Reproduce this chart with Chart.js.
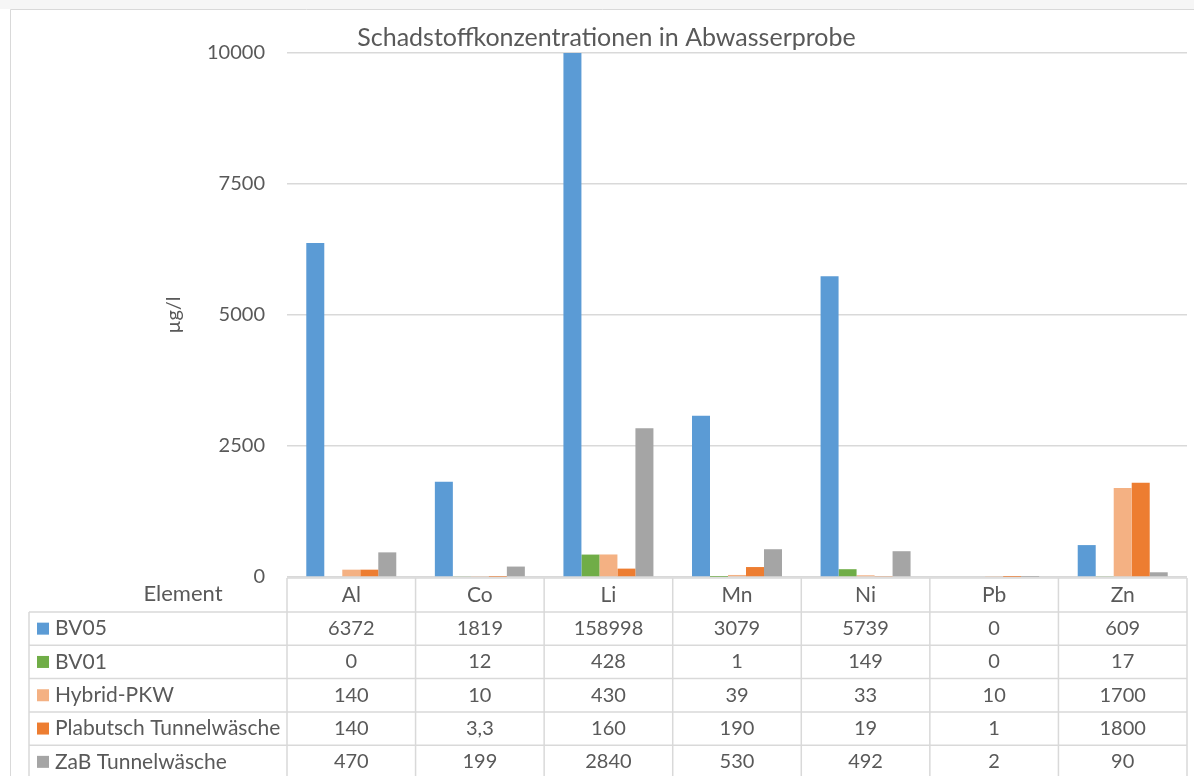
<!DOCTYPE html>
<html lang="de">
<head>
<meta charset="utf-8">
<title>Schadstoffkonzentrationen in Abwasserprobe</title>
<script src="https://cdn.jsdelivr.net/npm/chart.js@4.4.1/dist/chart.umd.min.js"></script>
<style>
  html, body { margin: 0; padding: 0; background: #fff; }
  #wrap { position: relative; width: 1194px; height: 776px; }
</style>
</head>
<body>
<div id="wrap"><canvas id="chart"></canvas></div>
<script>
// Elemente und Messwerte in µg/l
const elements = ['Al', 'Co', 'Li', 'Mn', 'Ni', 'Pb', 'Zn'];
const bv05 = [6372, 1819, 158998, 3079, 5739, 0, 609];
const bv01 = [0, 12, 428, 1, 149, 0, 17];
const hybridPkw = [140, 10, 430, 39, 33, 10, 1700];
const plabutsch = [140, 3.3, 160, 190, 19, 1, 1800];
const zab = [470, 199, 2840, 530, 492, 2, 90];

const seriesNames = ['BV05', 'BV01', 'Hybrid-PKW', 'Plabutsch Tunnelwäsche', 'ZaB Tunnelwäsche'];
const seriesColors = ['#5B9BD5', '#70AD47', '#F4B183', '#ED7D31', '#A5A5A5'];
const seriesValues = [bv05, bv01, hybridPkw, plabutsch, zab];

const yTicks = [0, 2500, 5000, 7500, 10000];

const FONT = 'Lato, "Open Sans", sans-serif';
const TEXT = '#595959';
const LINE = '#D9D9D9';

// Datentabelle unter dem Diagramm, an der x-Achse ausgerichtet
const dataTable = {
  id: 'dataTable',
  beforeDraw(chart) {
    const { ctx } = chart;
    ctx.save();
    ctx.fillStyle = '#F6F6F6';
    ctx.fillRect(0, 0, chart.width, 9);
    ctx.restore();
  },
  afterDraw(chart) {
    const { ctx, chartArea, scales } = chart;
    const x = scales.x;
    const colW = (chartArea.right - chartArea.left) / elements.length;
    const top = chartArea.bottom + 1;
    const headerH = 34;
    const rowH = 33.3;
    const tableLeft = 29;

    ctx.save();
    ctx.strokeStyle = LINE;
    ctx.lineWidth = 1.5;

    // Kopfzeile
    ctx.beginPath();
    ctx.moveTo(chartArea.left, top);
    ctx.lineTo(chartArea.right, top);
    for (let i = 0; i <= elements.length; i++) {
      const cx = chartArea.left + i * colW;
      ctx.moveTo(cx, top);
      ctx.lineTo(cx, top + headerH + rowH * seriesNames.length);
    }
    // Zeilen
    for (let r = 0; r <= seriesNames.length; r++) {
      const ry = top + headerH + r * rowH;
      ctx.moveTo(tableLeft, ry);
      ctx.lineTo(chartArea.right, ry);
    }
    ctx.moveTo(tableLeft, top + headerH);
    ctx.lineTo(tableLeft, top + headerH + rowH * seriesNames.length);
    ctx.stroke();

    ctx.fillStyle = TEXT;
    ctx.textBaseline = 'middle';
    ctx.textAlign = 'center';
    ctx.font = '22px ' + FONT;
    ctx.fillText('Element', 183, top + headerH / 2 - 1);
    ctx.font = '21px ' + FONT;
    elements.forEach((el, i) => {
      ctx.fillText(el, x.getPixelForValue(i), top + headerH / 2);
    });

    seriesNames.forEach((name, r) => {
      const cy = top + headerH + r * rowH + rowH / 2;
      ctx.fillStyle = seriesColors[r];
      ctx.fillRect(37, cy - 6, 12, 12);
      ctx.fillStyle = TEXT;
      ctx.textAlign = 'left';
      ctx.font = '21px ' + FONT;
      ctx.fillText(name, 55, cy);
      ctx.textAlign = 'center';
      ctx.font = '20px ' + FONT;
      seriesValues[r].forEach((v, i) => {
        ctx.fillText(String(v).replace('.', ','), x.getPixelForValue(i), cy);
      });
    });

    // Rahmen
    ctx.lineWidth = 1;
    ctx.beginPath();
    ctx.moveTo(10.5, 776);
    ctx.lineTo(10.5, 9.5);
    ctx.lineTo(1194, 9.5);
    ctx.stroke();
    ctx.restore();
  }
};

new Chart(document.getElementById('chart'), {
  type: 'bar',
  data: {
    labels: elements,
    datasets: seriesNames.map((name, i) => ({
      label: name,
      data: seriesValues[i],
      backgroundColor: seriesColors[i],
      barPercentage: 1.0,
      categoryPercentage: 0.70
    }))
  },
  options: {
    responsive: true,
    maintainAspectRatio: false,
    animation: false,
    layout: { padding: { left: 26, right: 7, top: 0, bottom: 199 } },
    plugins: {
      legend: { display: false },
      tooltip: { enabled: false },
      title: {
        display: true,
        text: 'Schadstoffkonzentrationen in Abwasserprobe',
        color: TEXT,
        font: { family: FONT, size: 25, weight: 'normal', lineHeight: 1.2 },
        padding: { top: 23, bottom: 0 }
      }
    },
    scales: {
      x: {
        display: false
      },
      y: {
        min: 0,
        max: 10000,
        afterFit(scale) { scale.width = 261; },
        afterBuildTicks(scale) { scale.ticks = yTicks.map(v => ({ value: v })); },
        border: { display: false },
        grid: { color: LINE, lineWidth: 1.5, drawTicks: false },
        ticks: {
          color: TEXT,
          padding: 22,
          font: { family: FONT, size: 20 },
          callback: v => String(v)
        },
        title: {
          display: true,
          text: 'µg/l',
          color: TEXT,
          font: { family: FONT, size: 20 },
          padding: { top: 136, bottom: 0 }
        }
      }
    }
  },
  plugins: [dataTable]
});
</script>
</body>
</html>
